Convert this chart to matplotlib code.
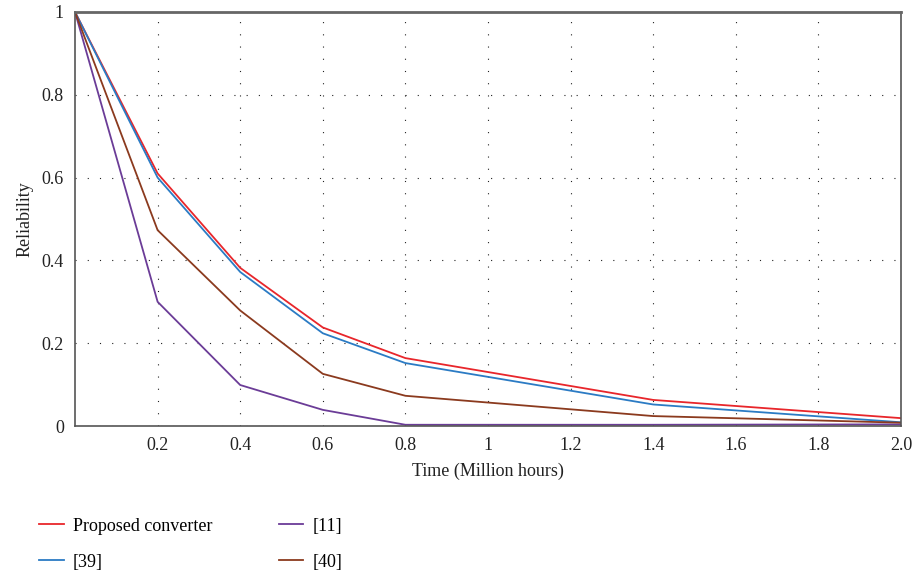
import matplotlib
matplotlib.use("Agg")
import matplotlib.pyplot as plt

# ── Data ──────────────────────────────────────────────────────────────────────
time_mh   = [0.0, 0.2, 0.4, 0.6, 0.8, 1.4, 2.0]
proposed  = [1.0, 0.610, 0.382, 0.238, 0.164, 0.063, 0.019]
ref_39    = [1.0, 0.600, 0.372, 0.224, 0.152, 0.052, 0.009]
ref_11    = [1.0, 0.300, 0.099, 0.039, 0.003, 0.003, 0.004]
ref_40    = [1.0, 0.473, 0.279, 0.126, 0.073, 0.024, 0.008]

x_ticks   = [0.2, 0.4, 0.6, 0.8, 1.0, 1.2, 1.4, 1.6, 1.8, 2.0]
x_labels  = ["0.2", "0.4", "0.6", "0.8", "1", "1.2", "1.4", "1.6", "1.8", "2.0"]
y_ticks   = [0, 0.2, 0.4, 0.6, 0.8, 1.0]
y_labels  = ["0", "0.2", "0.4", "0.6", "0.8", "1"]

plt.rcParams['font.family'] = ['Liberation Serif', 'DejaVu Serif']

fig = plt.figure(figsize=(9.16, 5.76), dpi=100)
ax = fig.add_axes([0.0819, 0.2604, 0.9017, 0.7188])

# ── Lines ─────────────────────────────────────────────────────────────────────
h_prop, = ax.plot(time_mh, proposed, color="#e8262b", lw=1.3)
h_39,   = ax.plot(time_mh, ref_39,   color="#2b7bc4", lw=1.3)
h_11,   = ax.plot(time_mh, ref_11,   color="#6b3c97", lw=1.3)
h_40,   = ax.plot(time_mh, ref_40,   color="#8b3a1e", lw=1.3)

# ── Axes styling ──────────────────────────────────────────────────────────────
ax.set_xlim(0, 2.0)
ax.set_ylim(0, 1.0)
ax.set_xticks(x_ticks)
ax.set_xticklabels(x_labels)
ax.set_yticks(y_ticks)
ax.set_yticklabels(y_labels)
ax.tick_params(length=0, labelsize=13, pad=8, colors="#222222")
ax.grid(True, color="#222222", linestyle=(0, (1, 10)), linewidth=0.8)

for side in ("left", "bottom", "right"):
    ax.spines[side].set_color("#555555")
    ax.spines[side].set_linewidth(1.2)
ax.spines["top"].set_color("#666666")
ax.spines["top"].set_linewidth(2.0)

ax.set_xlabel("Time (Million hours)", fontsize=13, labelpad=6, color="#222222")
ax.set_ylabel("Reliability", fontsize=13, labelpad=6, color="#222222")

# ── Legend ────────────────────────────────────────────────────────────────────
fig.legend([h_prop, h_39, h_11, h_40],
           ["Proposed converter", "[39]", "[11]", "[40]"],
           ncol=2, loc="lower left", bbox_to_anchor=(0.025, -0.019),
           frameon=False, fontsize=13, handlelength=1.35, handletextpad=0.5,
           columnspacing=3.7, labelspacing=1.05)

fig.savefig("out.png", dpi=100)
